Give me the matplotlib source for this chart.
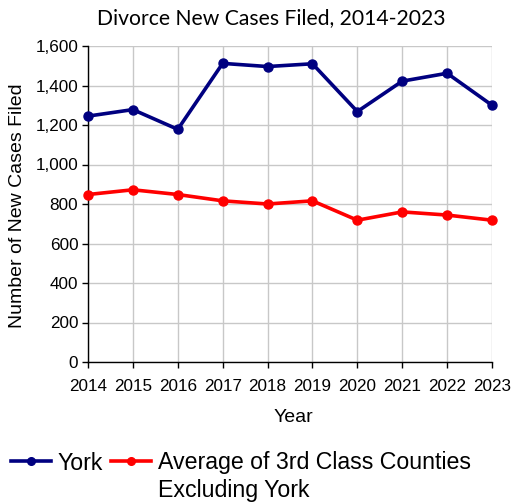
import matplotlib
matplotlib.use("Agg")
import matplotlib.pyplot as plt
from matplotlib.ticker import FuncFormatter

years = [2014, 2015, 2016, 2017, 2018, 2019, 2020, 2021, 2022, 2023]
york = [1245, 1278, 1178, 1512, 1496, 1510, 1268, 1422, 1462, 1300]
avg_3rd = [848, 872, 848, 816, 800, 816, 718, 760, 744, 718]
series_labels = ["York", "Average of 3rd Class Counties", "Excluding York"]
title = "Divorce New Cases Filed, 2014-2023"

plt.rcParams['font.family'] = ['Liberation Sans', 'DejaVu Sans']

W, H = 513, 503
fig = plt.figure(figsize=(W/100, H/100), dpi=100)
ax = fig.add_axes([88/W, 1-362/H, (492-88)/W, (362-46)/H])

l1, = ax.plot(years, york, color='#000080', lw=2.6, marker='o', ms=6.5, label=series_labels[0], clip_on=False, zorder=3)
l2, = ax.plot(years, avg_3rd, color='#FF0000', lw=2.6, marker='o', ms=6.5, label=series_labels[1], clip_on=False, zorder=3)

ax.set_xlim(2014, 2023)
ax.set_ylim(0, 1600)
ax.set_xticks(years)
ax.set_yticks(range(0, 1601, 200))
ax.yaxis.set_major_formatter(FuncFormatter(lambda v, p: f"{int(v):,}"))
ax.grid(True, color='#c8c8c8', lw=1.0)
ax.set_axisbelow(True)
for s in ['top', 'right']:
    ax.spines[s].set_visible(False)
for s in ['left', 'bottom']:
    ax.spines[s].set_color('black')
    ax.spines[s].set_linewidth(1.0)
ax.tick_params(axis='both', direction='out', length=4, width=1, labelsize=12.3, colors='black')
ax.tick_params(axis='x', pad=8)
ax.tick_params(axis='y', pad=3)
ax.set_xlabel("Year", fontsize=14)
ax.set_ylabel("Number of New Cases Filed", fontsize=14)
ax.xaxis.label.set_va('center')
ax.yaxis.label.set_va('center')
ax.xaxis.set_label_coords((293-88)/404, (362-418)/316)
ax.yaxis.set_label_coords((18-88)/404, (362-206)/316)

fig.text(271/W, 1-18/H, title, ha='center', va='center', fontsize=15.2, family=['Lato', 'DejaVu Sans'])

leg = fig.legend(handles=[l1, l2], labels=series_labels[:2], loc='center left',
                 bbox_to_anchor=(11/W, 1-463/H), ncol=2,
                 frameon=False, fontsize=16.7, handlelength=1.72, handletextpad=0.3, columnspacing=0.35,
                 borderaxespad=0, borderpad=0)
for h in leg.legend_handles:
    h.set_markersize(5.5)

fig.canvas.draw()
t2 = leg.get_texts()[1]
bb = t2.get_window_extent()
fig.text(bb.x0/W, (bb.y0 - 27)/H, series_labels[2], ha='left', va='bottom', fontsize=16.7)

fig.savefig("out.png", dpi=100)
